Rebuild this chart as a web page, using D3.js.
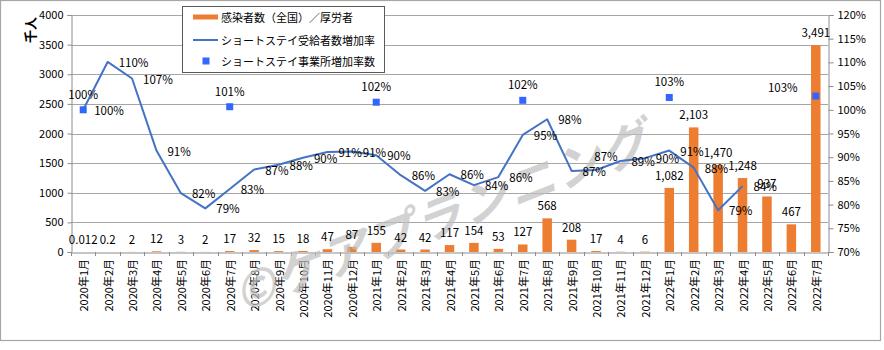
<!DOCTYPE html>
<html><head><meta charset="utf-8">
<script src="https://cdn.jsdelivr.net/npm/d3@7"></script>
<style>
html,body{margin:0;padding:0;background:#fff;}
svg{display:block;font-family:'Noto Sans CJK JP','Noto Sans',sans-serif;}
</style></head>
<body><svg id="chart" width="884" height="350"></svg>
<script>
const categories = ["2020年1月","2020年2月","2020年3月","2020年4月","2020年5月","2020年6月","2020年7月","2020年8月","2020年9月","2020年10月","2020年11月","2020年12月",
"2021年1月","2021年2月","2021年3月","2021年4月","2021年5月","2021年6月","2021年7月","2021年8月","2021年9月","2021年10月","2021年11月","2021年12月",
"2022年1月","2022年2月","2022年3月","2022年4月","2022年5月","2022年6月","2022年7月"];
const cases = [0.012,0.2,2,12,3,2,17,32,15,18,47,87,155,42,42,117,154,53,127,568,208,17,4,6,1082,2103,1470,1248,937,467,3491];
const userRate = [1.000,1.101,1.066,0.914,0.824,0.792,0.833,0.874,0.884,0.899,0.911,0.912,0.904,0.862,0.829,0.864,0.841,0.858,0.947,0.980,0.871,0.873,0.892,0.898,0.914,0.878,0.788,0.839,null,null,null];
const officeRate = [1.000,null,null,null,null,null,1.0065,null,null,null,null,null,1.016,null,null,null,null,null,1.020,null,null,null,null,null,1.026,null,null,null,null,null,1.029];
const leftTicks = [0,500,1000,1500,2000,2500,3000,3500,4000];
const rightTicks = [0.70,0.75,0.80,0.85,0.90,0.95,1.00,1.05,1.10,1.15,1.20];
const legendLabels = ["感染者数（全国）／厚労者","ショートステイ受給者数増加率","ショートステイ事業所増加率数"];
const axisTitle = "千人";
const watermark = "©ケアプランニング";

const svg = d3.select("#chart");
const L = 71, R = 828, T = 15, B = 252;
const orange = "#ED7D31", blue = "#4472C4", sq = "#3366FF";
const x = d3.scaleBand().domain(categories).range([L, R]).padding(0);
const yL = d3.scaleLinear().domain([0,4000]).range([B,T]);
const yR = d3.scaleLinear().domain([0.7,1.2]).range([B,T]);
const cx = i => x(categories[i]) + x.bandwidth()/2;

svg.append("rect").attr("x",0.5).attr("y",0.5).attr("width",880).attr("height",340)
  .attr("fill","#fff").attr("stroke","#a6a6a6").attr("stroke-width",1.2);

// gridlines
svg.append("g").selectAll("line").data(leftTicks.filter(d=>d>0)).join("line")
  .attr("x1",L).attr("x2",R).attr("y1",d=>Math.round(yL(d))+0.5).attr("y2",d=>Math.round(yL(d))+0.5)
  .attr("stroke","#a6a6a6").attr("stroke-width",1);

// left axis
const gl = svg.append("g").attr("transform",`translate(${L+0.5},0)`)
  .call(d3.axisLeft(yL).tickValues(leftTicks).tickFormat(d3.format("d")).tickSize(4).tickPadding(4));
// right axis
const gr = svg.append("g").attr("transform",`translate(${R+0.5},0)`)
  .call(d3.axisRight(yR).tickValues(rightTicks).tickFormat(d3.format(".0%")).tickSize(5).tickPadding(4));
[gl,gr].forEach(g=>{
  g.selectAll("path.domain").attr("stroke","#8c8c8c");
  g.selectAll(".tick line").attr("stroke","#8c8c8c");
  g.selectAll("text").attr("font-size",11).attr("fill","#000").attr("font-family","'Noto Sans CJK JP',sans-serif");
});

// x axis
const gx = svg.append("g").attr("transform",`translate(0,${B+0.5})`)
  .call(d3.axisBottom(x).tickSize(0).tickFormat(""));
gx.select("path.domain").attr("stroke","#8c8c8c");
svg.append("g").selectAll("line").data(d3.range(categories.length+1)).join("line")
  .attr("x1",i=>Math.round(L + i*x.step())+0.5).attr("x2",i=>Math.round(L + i*x.step())+0.5)
  .attr("y1",B).attr("y2",B+4).attr("stroke","#8c8c8c");
svg.append("g").selectAll("text").data(categories).join("text")
  .attr("transform",(d,i)=>`translate(${cx(i)},${B+7}) rotate(-90)`)
  .attr("text-anchor","end").attr("dominant-baseline","central")
  .attr("font-size",11).attr("fill","#000").text(d=>d);

// bars
const bw = 9.5;
svg.append("g").selectAll("rect").data(cases).join("rect")
  .attr("x",(d,i)=>cx(i)-bw/2).attr("width",bw)
  .attr("y",d=>yL(d)).attr("height",d=>B-yL(d)).attr("fill",orange);

// watermark
svg.append("text").attr("transform","translate(445,212) rotate(-21) skewX(-15)")
  .attr("text-anchor","middle").attr("dominant-baseline","central")
  .attr("font-size",48).attr("font-weight","bold").attr("fill","#bfbfbf").attr("opacity",0.7)
  .attr("textLength",440).attr("lengthAdjust","spacing").text(watermark);

// bar labels
const fmtBar = v => v < 1 ? String(v) : d3.format(",")(v);
svg.append("g").selectAll("text").data(cases).join("text")
  .attr("x",(d,i)=>cx(i)).attr("y",d=>yL(d)-13)
  .attr("text-anchor","middle").attr("dominant-baseline","central")
  .attr("font-size",11.5).attr("fill","#000").text(fmtBar);

// line
const line = d3.line().defined(d=>d!=null).x((d,i)=>cx(i)).y(d=>yR(d));
svg.append("path").datum(userRate).attr("d",line).attr("fill","none")
  .attr("stroke",blue).attr("stroke-width",2).attr("stroke-linejoin","round");
const fmtPct = d3.format(".0%");
const userPts = userRate.map((v,i)=>({v,i})).filter(d=>d.v!=null);
svg.append("g").selectAll("text").data(userPts).join("text")
  .attr("x",d=> categories[d.i]==="2021年10月" ? cx(d.i)+10 : cx(d.i)+11)
  .attr("y",d=> categories[d.i]==="2021年10月" ? yR(d.v)-14 : yR(d.v))
  .attr("text-anchor",d=> categories[d.i]==="2021年10月" ? "middle" : "start")
  .attr("dominant-baseline","central").attr("font-size",11.5).attr("fill","#000")
  .text(d=>fmtPct(d.v));

// office squares
const offPts = officeRate.map((v,i)=>({v,i})).filter(d=>d.v!=null);
svg.append("g").selectAll("rect").data(offPts).join("rect")
  .attr("x",d=>cx(d.i)-3.5).attr("y",d=>yR(d.v)-3.5).attr("width",7).attr("height",7).attr("fill",sq);
const last = categories.length-1;
svg.append("g").selectAll("text").data(offPts).join("text")
  .attr("x",d=> d.i===last ? cx(d.i)-33 : cx(d.i))
  .attr("y",d=> d.i===last ? yR(d.v)-9 : yR(d.v)-16)
  .attr("text-anchor","middle").attr("dominant-baseline","central")
  .attr("font-size",11.5).attr("fill","#000").text(d=>fmtPct(d.v));

// axis title
svg.append("text").attr("transform","translate(29,30) rotate(-90)")
  .attr("text-anchor","middle").attr("dominant-baseline","central")
  .attr("font-size",13).attr("font-weight","bold").attr("fill","#000").text(axisTitle);

// legend
const lg = svg.append("g");
lg.append("rect").attr("x",182.5).attr("y",6.5).attr("width",202).attr("height",66)
  .attr("fill","#fff").attr("stroke","#595959");
const rows = [17,40,61];
lg.append("line").attr("x1",193).attr("x2",218).attr("y1",rows[0]).attr("y2",rows[0]).attr("stroke",orange).attr("stroke-width",5);
lg.append("line").attr("x1",193).attr("x2",218).attr("y1",rows[1]).attr("y2",rows[1]).attr("stroke",blue).attr("stroke-width",2);
lg.append("rect").attr("x",202.5).attr("y",rows[2]-3.5).attr("width",7).attr("height",7).attr("fill",sq);
lg.selectAll("text").data(legendLabels).join("text")
  .attr("x",221).attr("y",(d,i)=>rows[i]).attr("dominant-baseline","central")
  .attr("font-size",11).attr("fill","#000").text(d=>d);
</script></body></html>
